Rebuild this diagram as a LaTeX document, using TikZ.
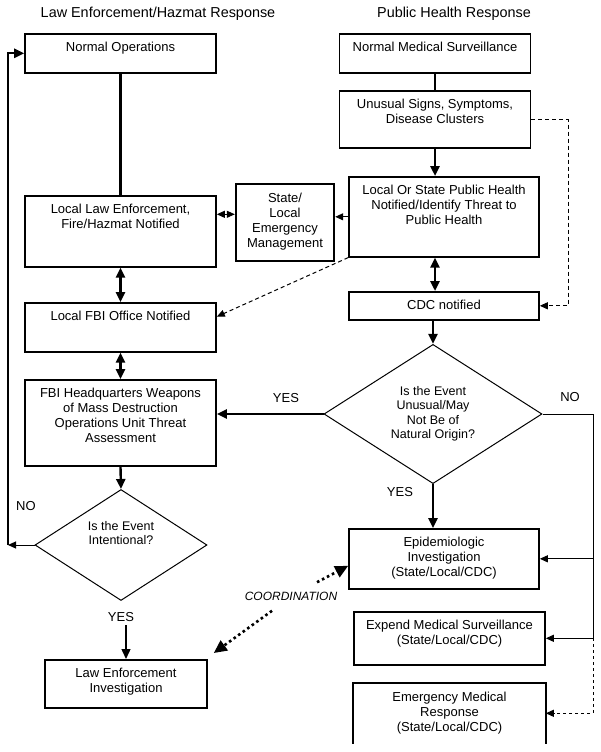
\documentclass[tikz,border=0pt]{standalone}
\usepackage{fontspec}
\setmainfont{Liberation Sans}
\usetikzlibrary{arrows.meta,shapes.geometric,calc}

\begin{document}
\begin{tikzpicture}[
        x=1pt, y=-1pt,
        >={Triangle[length=10pt,width=9pt]},
        box/.style={draw, line width=1.6pt, anchor=north, align=center,
          inner xsep=2pt, inner ysep=0pt,
          font=\fontsize{13}{15}\selectfont},
        ask/.style={draw, diamond, line width=1pt, align=center, inner sep=0pt,
          font=\fontsize{12.5}{14.5}\selectfont},
        heading/.style={font=\fontsize{14.4}{16}\selectfont},
        tag/.style={font=\fontsize{13}{15}\selectfont},
        flow/.style={line width=2.4pt},
        thinarr/.style={line width=1pt, -{Triangle[length=8pt,width=7pt]}},
        dasharr/.style={line width=1pt, dashed, dash pattern=on 4pt off 3pt},
        coordarr/.style={line width=2.6pt, dash pattern=on 2.6pt off 3pt,
          -{Triangle[length=13pt,width=12pt]}}
      ]

      \useasboundingbox (0,0) rectangle (600,752);

      \node[heading] (lawtitle) at (158,14) {Law Enforcement/Hazmat Response};
      \node[heading] (healthtitle) at (454,14) {Public Health Response};

      \node[box, minimum width=191pt, text height=18pt, text depth=21pt] (normops) at (120.5,33) {Normal Operations};
      \node[box, minimum width=191pt, text height=18pt, text depth=21pt] (normmed) at (435,33) {Normal Medical Surveillance};
      \node[box, minimum width=191pt, text height=33pt, text depth=24pt] (unusual) at (435,90) {Unusual Signs, Symptoms,\\Disease Clusters};
      \node[box, minimum width=190pt, text height=48pt, text depth=32pt] (lphealth) at (444,176)
        {Local Or State Public Health\\Notified/Identify Threat to\\Public Health};
      \node[box, line width=2.4pt, minimum width=98pt, text height=63pt, text depth=14pt] (sem) at (285,183)
        {State/\\Local\\Emergency\\Management};
      \node[box, minimum width=191pt, text height=33pt, text depth=38pt] (lle) at (120.5,195)
        {Local Law Enforcement,\\Fire/Hazmat Notified};
      \node[box, minimum width=190pt, text height=18pt, text depth=10pt] (cdc) at (444,291) {CDC notified};
      \node[box, minimum width=191pt, text height=18pt, text depth=31pt] (lfbi) at (120.5,302) {Local FBI Office Notified};
      \node[box, minimum width=191pt, text height=63pt, text depth=23pt] (fbihq) at (120.5,379)
        {FBI Headquarters Weapons\\of Mass Destruction\\Operations Unit Threat\\Assessment};
      \node[ask, minimum width=218pt, minimum height=133pt] (dnat) at (433,414)
        {Is the Event\\Unusual/May\\Not Be of\\Natural Origin?};
      \node[ask, minimum width=172pt, minimum height=110pt, text height=22pt, text depth=23pt] (dint) at (121,545)
        {Is the Event\\Intentional?};
      \node[box, minimum width=190pt, text height=48pt, text depth=12pt] (epi) at (444,528)
        {Epidemiologic\\Investigation\\(State/Local/CDC)};
      \node[box, minimum width=191pt, text height=33pt, text depth=20pt] (expend) at (449.5,611)
        {Expend Medical Surveillance\\(State/Local/CDC)};
      \node[box, draw=none, minimum width=191pt, text height=48pt, text depth=11pt] (emr) at (449.5,683)
        {Emergency Medical\\Response\\(State/Local/CDC)};
      \node[box, minimum width=162pt, text height=33pt, text depth=15pt] (lei) at (126,659)
        {Law Enforcement\\Investigation};

      \node[tag] (yesleft) at (286,398) {YES};
      \node[tag] (nonat) at (570,397) {NO};
      \node[tag] (yesnat) at (400,492) {YES};
      \node[tag] (noint) at (26,506) {NO};
      \node[tag] (yesint) at (121,617) {YES};
      \node[font=\fontsize{12}{14}\selectfont\itshape] (coord) at (291,596) {COORDINATION};

      \coordinate (noturn) at (8,545);
      \coordinate (noline) at (593,414);
      \coordinate (dashline) at (568,118);

      \draw[line width=1.6pt] (emr.south west) -- (emr.north west) -- (emr.north east) -- (emr.south east);

      \draw[flow] (normops.south) -- (lle.north);
      \draw[flow] (normmed.south) -- (unusual.north);
      \draw[flow, ->] (unusual.south) -- (unusual.south |- lphealth.north);
      \draw[thinarr] (lphealth.west) -- (lphealth.west -| sem.east);
      \draw[dasharr, {Triangle[length=8pt,width=7pt]}-{Triangle[length=8pt,width=7pt]}]
        ([yshift=17pt]lle.east) -- ([yshift=17pt]lle.east -| sem.west);
      \draw[flow, <->] (lle.south) -- (lfbi.north);
      \draw[flow, <->] (unusual.south |- lphealth.south) -- (unusual.south |- cdc.north);
      \draw[flow, ->] (dnat.north |- cdc.south) -- (dnat.north);
      \draw[flow, <->] (lfbi.south) -- (fbihq.north);
      \draw[flow, ->] (fbihq.south) -- (dint.north);
      \draw[flow, ->] (dnat.west) -- (dnat.west -| fbihq.east);
      \draw[flow, ->] (dnat.south) -- (dnat.south |- epi.north);
      \draw[dasharr, -{Triangle[length=8pt,width=7pt]}] (unusual.east) -| (dashline |- cdc.east) -- (cdc.east);
      \draw[dasharr, -{Triangle[length=8pt,width=7pt]}] (lphealth.south west) -- ($(lfbi.north east)!0.29!(lfbi.south east)$);

      \draw[line width=1pt] (dnat.east) -- (noline) -- (noline |- expend.east);
      \draw[thinarr] (noline |- epi.east) -- (epi.east);
      \draw[thinarr] (noline |- expend.east) -- (expend.east);
      \draw[thinarr, dashed] (noline |- expend.east) |- (emr.east);

      \draw[line width=1pt, -{Triangle[length=8pt,width=7pt]}] (dint.west) -- (noturn);
      \draw[flow, ->] (noturn) |- (normops.west);
      \draw[line width=1.4pt, ->] (lei.north |- yesint.south) -- (lei.north);

      \draw[coordarr] ([shift={(26,-6)}]coord.north) -- ([yshift=-7pt]epi.west);
      \draw[coordarr] ([shift={(-19,7)}]coord.south) -- ([shift={(6,-6)}]lei.north east);
    \end{tikzpicture}
\end{document}
